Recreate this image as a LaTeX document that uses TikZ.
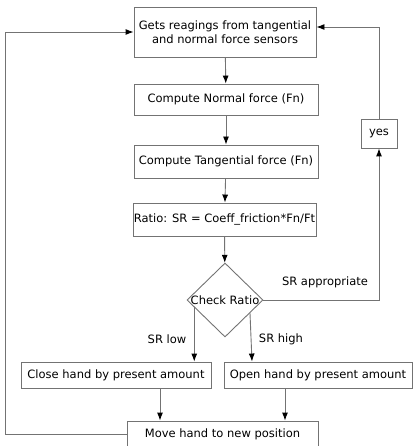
\documentclass[tikz,border=0pt]{standalone}
\usepackage{fontspec}
\setmainfont{DejaVu Sans}
\usepackage{tikz}
\usetikzlibrary{shapes,arrows,positioning,calc,arrows.meta}
\definecolor{linegray}{rgb}{0.45,0.45,0.45}

\begin{document}
\begin{tikzpicture}[x=1pt,y=-1pt,
    box/.style={draw=linegray, line width=0.9pt, inner sep=0pt, align=center, font=\fontsize{11.5}{14}\selectfont},
    flow/.style={draw=linegray, line width=0.9pt, -{Latex[color=black,length=8pt,width=6pt]}},
    lbl/.style={font=\fontsize{11.5}{14}\selectfont}]
    \useasboundingbox (0,0) rectangle (412,446);

    \node[box, minimum width=182, minimum height=50] (read) at (225,32) {Gets reagings from tangential\\and normal force sensors};
    \node[box, minimum width=184, minimum height=31] (normal) at (226,99.5) {Compute Normal force (Fn)};
    \node[box, minimum width=184, minimum height=33] (tang) at (226,161.5) {Compute Tangential force (Fn)};
    \node[box, minimum width=183, minimum height=33] (ratio) at (224.5,219.5) {Ratio: SR = Coeff\_friction*Fn/Ft};
    \node[box, diamond, minimum width=76, minimum height=74] (check) at (225,300) {\makebox[0pt]{Check Ratio}};
    \node[box, minimum width=36, minimum height=29] (yes) at (379,133.5) {yes};
    \node[box, minimum width=190, minimum height=26] (close) at (116,375) {Close hand by present amount};
    \node[box, minimum width=188, minimum height=26] (open) at (318,375) {Open hand by present amount};
    \node[box, minimum width=191, minimum height=27] (move) at (222.5,434.5) {Move hand to new position};

    \coordinate (loopcorner) at (5,434.5);
    \coordinate (lowstart) at ($(check.west)!0.2!(check.south)$);
    \coordinate (highstart) at ($(check.east)!0.35!(check.south)$);

    \draw[flow] (read) -- (normal);
    \draw[flow] (normal) -- (tang);
    \draw[flow] (tang) -- (ratio);
    \draw[flow] (ratio) -- (check);
    \draw[flow] (check.east) -| (yes.south);
    \draw[flow] (yes.north) |- ([yshift=5pt]read.east);
    \draw[flow] (lowstart) -- (lowstart |- close.north);
    \draw[flow] (highstart) -- ([xshift=2pt]highstart |- open.north);
    \draw[flow] ([xshift=44pt]close.south) -- ([xshift=44pt]close.south |- move.north);
    \draw[flow] ([xshift=-33pt]open.south) -- ([xshift=-33pt]open.south |- move.north);
    \draw[flow] (move.west) -- (loopcorner) |- (read.west);

    \node[lbl] (appr) at (325,282) {SR appropriate};
    \node[lbl] (low) at (167,339) {SR low};
    \node[lbl] (high) at (281,339) {SR high};
\end{tikzpicture}
\end{document}
